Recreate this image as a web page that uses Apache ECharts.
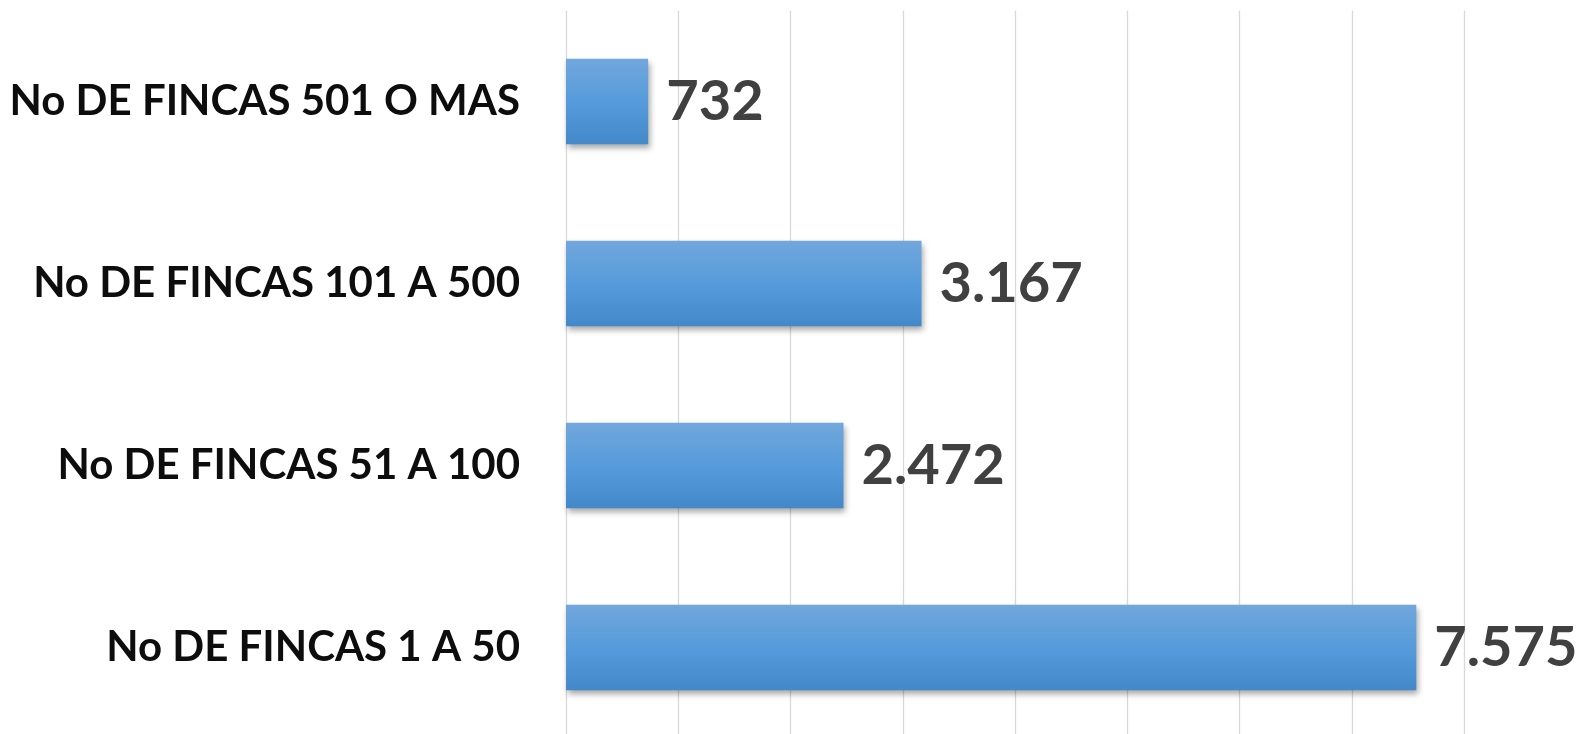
<!DOCTYPE html>
<html>
<head>
<meta charset="utf-8">
<script src="https://cdn.jsdelivr.net/npm/echarts@6/dist/echarts.min.js"></script>
<style>
html,body{margin:0;padding:0;background:#fff;overflow:hidden;}
#chart{width:1583px;height:750px;}
</style>
</head>
<body>
<div id="chart"></div>
<script>
var categories = ["No DE FINCAS 1 A 50", "No DE FINCAS 51 A 100", "No DE FINCAS 101 A 500", "No DE FINCAS 501 O MAS"];
var values = [7575, 2472, 3167, 732];
var valueLabels = ["7.575", "2.472", "3.167", "732"];

var chart = echarts.init(document.getElementById('chart'));
chart.setOption({
  animation: false,
  grid: { left: 566, width: 898, top: 10.5, height: 728, containLabel: false },
  xAxis: {
    type: 'value', min: 0, max: 8000, interval: 1000,
    axisLabel: { show: false }, axisLine: { show: false }, axisTick: { show: false },
    splitLine: { show: true, lineStyle: { color: '#d9d9d9', width: 1.3 } }
  },
  yAxis: {
    type: 'category', data: categories,
    axisLine: { show: false }, axisTick: { show: false },
    axisLabel: {
      color: '#0d0d0d', fontFamily: 'Lato', fontWeight: 'bold', fontSize: 42, margin: 46
    }
  },
  series: [{
    type: 'bar', data: values, barCategoryGap: '53%',
    itemStyle: {
      color: new echarts.graphic.LinearGradient(0, 0, 0, 1, [
        { offset: 0, color: '#72a7dc' },
        { offset: 0.5, color: '#569bdb' },
        { offset: 1, color: '#4388c9' }
      ]),
      shadowColor: 'rgba(0,0,0,0.35)', shadowBlur: 6, shadowOffsetX: 2, shadowOffsetY: 4
    },
    label: {
      show: true, position: 'right', distance: 18,
      formatter: function (p) { return valueLabels[p.dataIndex]; },
      color: '#404040', fontFamily: 'Lato', fontWeight: 'bold', fontSize: 56
    }
  }]
});
</script>
</body>
</html>
